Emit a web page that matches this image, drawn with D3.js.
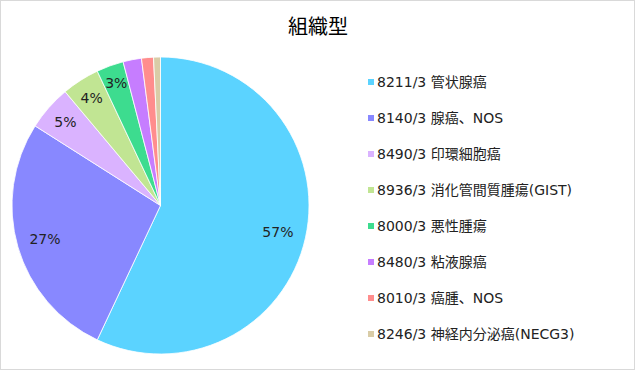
<!DOCTYPE html>
<html>
<head>
<meta charset="utf-8">
<script src="https://cdn.jsdelivr.net/npm/d3@7"></script>
<style>
  body { margin: 0; background: #fff; }
  svg text { font-family: "DejaVu Sans", "Noto Sans CJK JP", sans-serif; }
  svg text.title { font-family: "Noto Sans CJK JP", sans-serif; }
</style>
</head>
<body>
<svg id="chart" width="635" height="371"></svg>
<script>
// Histology types (組織型) and their shares in percent
var categories = [
    "8211/3 管状腺癌",
    "8140/3 腺癌、NOS",
    "8490/3 印環細胞癌",
    "8936/3 消化管間質腫瘍(GIST)",
    "8000/3 悪性腫瘍",
    "8480/3 粘液腺癌",
    "8010/3 癌腫、NOS",
    "8246/3 神経内分泌癌(NECG3)"
];
var shares = [57.0, 27.0, 4.9, 4.1, 2.95, 2.0, 1.3, 0.75];
var colors = ["#5bd3ff", "#8888ff", "#dab3ff", "#c1e593", "#3ddc8f", "#c67dff", "#ff8d8d", "#d9cca7"];

var svg = d3.select("#chart"),
    width = +svg.attr("width"),
    height = +svg.attr("height");

// Outer frame
svg.append("rect")
    .attr("x", 0.5).attr("y", 0.5)
    .attr("width", width - 1).attr("height", height - 2)
    .attr("fill", "#fff")
    .attr("stroke", "#d9d9d9");

// Title
svg.append("text")
    .attr("class", "title")
    .attr("x", 318).attr("y", 34)
    .attr("text-anchor", "middle")
    .attr("font-size", 20)
    .attr("fill", "#000")
    .text("組織型");

// Pie
var cx = 160.5, cy = 205.5, radius = 148.5;
var data = categories.map(function (c, i) { return { name: c, value: shares[i], color: colors[i] }; });

var pie = d3.pie().sort(null).value(function (d) { return d.value; });
var arc = d3.arc().innerRadius(0).outerRadius(radius);

var g = svg.append("g").attr("transform", "translate(" + cx + "," + cy + ")");
var arcs = pie(data);

g.selectAll("path")
    .data(arcs)
    .enter().append("path")
    .attr("d", arc)
    .attr("fill", function (d) { return d.data.color; })
    .attr("stroke", "#fff")
    .attr("stroke-width", 0.8);

// Narrow slices get their label pushed further out (like Excel's best fit)
function labelRadius(v) {
    return radius * (v >= 10 ? 0.81 : 0.91 - v * 0.012);
}

// Only the larger slices carry a label
g.selectAll("text.pct")
    .data(arcs.filter(function (d) { return d.data.value >= 2.5; }))
    .enter().append("text")
    .attr("class", "pct")
    .attr("transform", function (d) {
        var r = labelRadius(d.data.value);
        var p = d3.arc().innerRadius(r).outerRadius(r).centroid(d);
        return "translate(" + p[0] + "," + p[1] + ")";
    })
    .attr("text-anchor", "middle")
    .attr("dy", "0.35em")
    .attr("font-size", 14)
    .attr("fill", "#222")
    .text(function (d) { return Math.round(d.data.value) + "%"; });

// Legend
var legendY = d3.scalePoint().domain(categories).range([82, 334]);
var legend = svg.append("g").selectAll("g")
    .data(data)
    .enter().append("g")
    .attr("transform", function (d) { return "translate(368," + legendY(d.name) + ")"; });

legend.append("rect")
    .attr("x", 0).attr("y", -3)
    .attr("width", 6).attr("height", 6)
    .attr("fill", function (d) { return d.color; });

legend.append("text")
    .attr("x", 9).attr("dy", "0.36em")
    .attr("font-size", 14)
    .attr("fill", "#222")
    .text(function (d) { return d.name; });
</script>
</body>
</html>
